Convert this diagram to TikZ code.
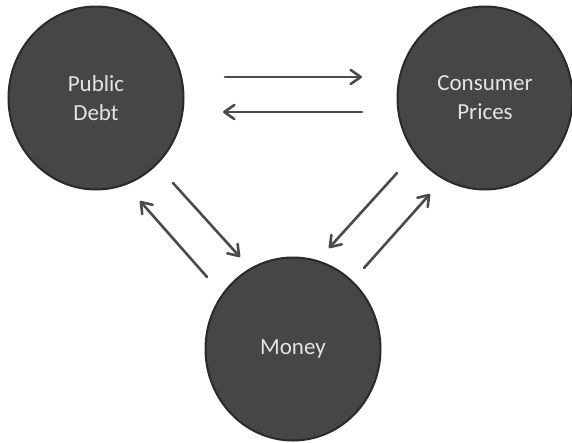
\documentclass[tikz,border=0pt]{standalone}
\usepackage{fontspec}
\setmainfont{Carlito}
\usetikzlibrary{shapes.geometric,arrows.meta}
\definecolor{bubblefill}{HTML}{464646}
\definecolor{bubbleedge}{HTML}{2A2A2A}
\definecolor{arrowgray}{HTML}{4B4B4B}
\definecolor{labelgray}{HTML}{E4E4E4}
\tikzset{
  bubble/.style={ellipse, draw=bubbleedge, line width=2pt, fill=bubblefill,
    minimum width=175pt, minimum height=183pt, inner sep=0pt,
    align=center, text=labelgray,
    font=\fontsize{23pt}{29pt}\selectfont},
  flow/.style={draw=arrowgray, line width=2.6pt, line cap=round,
    -{Straight Barb[length=10pt,width=14pt,line cap=round,line join=round]}}
}
\begin{document}
\begin{tikzpicture}[x=1pt,y=-1pt]
  \useasboundingbox (0,0) rectangle (572,442);
  % the three quantities
  \node[bubble] (pd) at (96,98) {Public\\Debt};
  \node[bubble] (cp) at (485,98) {Consumer\\Prices};
  \node[bubble] (mo) at (293,349) {Money};
  % arrow end points between the bubbles
  \coordinate (a1s) at (225,77);  \coordinate (a1e) at (362,77);
  \coordinate (a2s) at (362,112); \coordinate (a2e) at (223,112);
  \coordinate (a3s) at (207,277); \coordinate (a3e) at (140,201);
  \coordinate (a4s) at (173,183); \coordinate (a4e) at (240,257);
  \coordinate (a5s) at (397,173); \coordinate (a5e) at (329,248);
  \coordinate (a6s) at (364,268); \coordinate (a6e) at (430,194);
  % mutual influences
  \draw[flow] (a1s) -- (a1e);
  \draw[flow] (a2s) -- (a2e);
  \draw[flow] (a3s) -- (a3e);
  \draw[flow] (a4s) -- (a4e);
  \draw[flow] (a5s) -- (a5e);
  \draw[flow] (a6s) -- (a6e);
\end{tikzpicture}
\end{document}
